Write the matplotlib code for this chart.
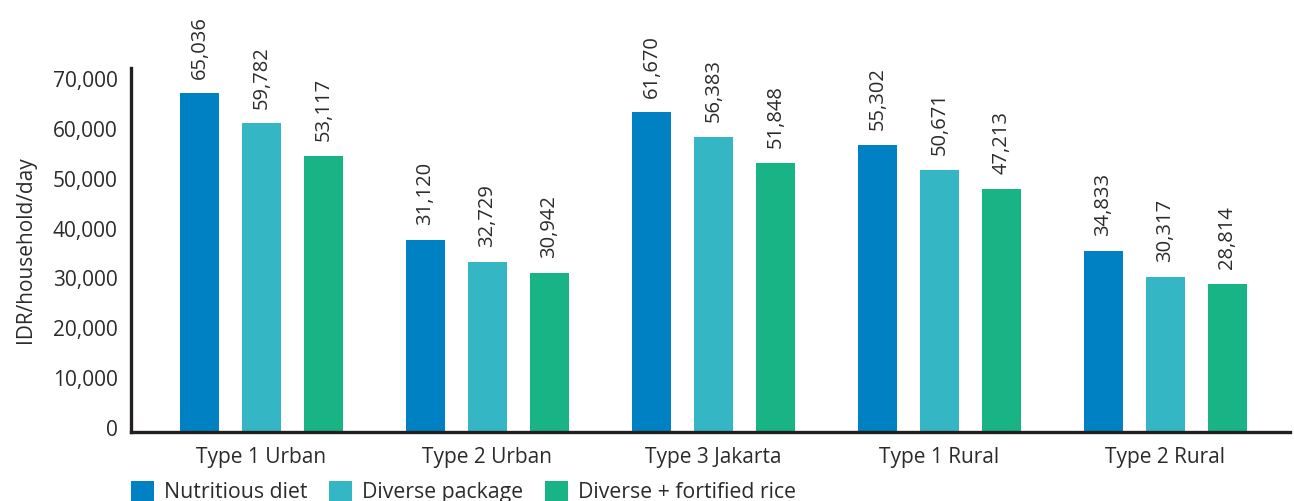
import matplotlib
matplotlib.use("Agg")
import matplotlib.pyplot as plt
from matplotlib.patches import Patch
from matplotlib.transforms import ScaledTranslation
import numpy as np

plt.rcParams['font.family'] = ['Open Sans', 'DejaVu Sans']

categories = ["Type 1 Urban", "Type 2 Urban", "Type 3 Jakarta", "Type 1 Rural", "Type 2 Rural"]
series_names = ["Nutritious diet", "Diverse package", "Diverse + fortified rice"]

# Bar heights as drawn in the picture
nutritious_heights = [67930, 38510, 64120, 57560, 36300]
diverse_heights = [61910, 34100, 59170, 52550, 31090]
fortified_heights = [55350, 31890, 53950, 48740, 29680]

# Value labels as printed above the bars
nutritious_labels = ["65,036", "31,120", "61,670", "55,302", "34,833"]
diverse_labels = ["59,782", "32,729", "56,383", "50,671", "30,317"]
fortified_labels = ["53,117", "30,942", "51,848", "47,213", "28,814"]

yticks = [0, 10000, 20000, 30000, 40000, 50000, 60000, 70000]
ytick_labels = ["0", "10,000", "20,000", "30,000", "40,000", "50,000", "60,000", "70,000"]

colors = ["#0081C3", "#35B6C4", "#18B485"]
text_color = "#2b2b2b"
axis_color = "#231f20"

W, H = 1294, 501
fig = plt.figure(figsize=(W / 100, H / 100), dpi=100)
ax = fig.add_axes([131 / W, (H - 432) / H, (1290 - 131) / W, (432 - 68) / H])

x = np.arange(len(categories))
width = 0.1726
offset = 0.2743
heights = [nutritious_heights, diverse_heights, fortified_heights]
labels = [nutritious_labels, diverse_labels, fortified_labels]

for i, (h, lab, c) in enumerate(zip(heights, labels, colors)):
    pos = x + (i - 1) * offset
    bars = ax.bar(pos, h, width=width, color=c, zorder=2)
    for b, t in zip(bars, lab):
        ax.annotate(t, (b.get_x() + b.get_width() / 2, b.get_height()),
                    xytext=(0, 10.5), textcoords="offset points",
                    rotation=90, ha="center", va="bottom",
                    fontsize=14.5, color=text_color)

ax.set_xlim(-0.5774, 4.551)
ax.set_ylim(0, 73000)
ax.set_yticks(yticks)
ax.set_yticklabels(ytick_labels)
ax.set_xticks(x)
ax.set_xticklabels(categories)
ax.tick_params(axis="both", length=0, labelsize=15, colors=text_color)
ax.tick_params(axis="y", pad=9.5)
ax.tick_params(axis="x", pad=11)
shift = ScaledTranslation(0, 4 / 100, fig.dpi_scale_trans)
for lbl in ax.get_yticklabels():
    lbl.set_transform(lbl.get_transform() + shift)

for s in ["top", "right"]:
    ax.spines[s].set_visible(False)
for s in ["left", "bottom"]:
    ax.spines[s].set_color(axis_color)
    ax.spines[s].set_linewidth(2.4)
    ax.spines[s].set_zorder(3)

ax.set_ylabel("IDR/household/day", fontsize=15, color=text_color, labelpad=12.5)

handles = [Patch(facecolor=c, edgecolor="none") for c in colors]
fig.legend(handles, series_names, loc="center left",
           bbox_to_anchor=(131 / W, (H - 492) / H), ncol=3, frameon=False,
           fontsize=15.3, handlelength=1.1, handleheight=1.1, handletextpad=0.45,
           columnspacing=1.02, borderpad=0, borderaxespad=0, labelcolor=text_color)

fig.savefig("out.png", dpi=100)
